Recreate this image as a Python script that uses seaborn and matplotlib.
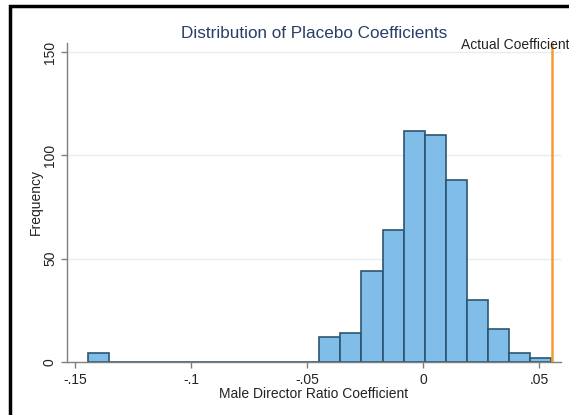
import numpy as np
import pandas as pd
import matplotlib
matplotlib.use("Agg")
import matplotlib.pyplot as plt
import matplotlib.patches as mpatches
import seaborn as sns

# ---- data ----
bin_start = -0.1447
bin_width = 0.00908
counts = [4, 0, 0, 0, 0, 0, 0, 0, 0, 0, 0,
          12, 14, 44, 64, 112, 110, 88, 30, 16, 4, 2]
actual_coef = 0.0553
xticks = [-0.15, -0.10, -0.05, 0.0, 0.05]
xtick_labels = ["-.15", "-.1", "-.05", "0", ".05"]
yticks = [0, 50, 100, 150]
ytick_labels = ["0", "50", "100", "150"]
title = "Distribution of Placebo Coefficients"
xlabel = "Male Director Ratio Coefficient"
ylabel = "Frequency"
line_label = "Actual Coefficient"

edges = [float(e) for e in bin_start + bin_width * np.arange(len(counts) + 1)]
centers = [(a + b) / 2 for a, b in zip(edges[:-1], edges[1:])]
df = pd.DataFrame({"coef": centers, "n": counts})

sns.set_theme(style="white")
plt.rcParams["font.family"] = ["Liberation Sans", "DejaVu Sans"]

fig = plt.figure(figsize=(5.69, 4.15), dpi=100)
fig.patch.set_facecolor("white")
ax = fig.add_axes([0.1172, 0.1284, 0.8682, 0.7673])

ax.set_axisbelow(True)
for v in yticks[1:]:
    ax.axhline(v, color="#e4edf0", lw=1.0, zorder=0)

sns.histplot(data=df, x="coef", weights="n", bins=edges, ax=ax,
             color="#80bde8", edgecolor="#2c5573", linewidth=1.2,
             alpha=1.0, zorder=2)

ax.axvline(actual_coef, color="#f39c34", lw=1.8, zorder=3)
ax.text(0.01625, 151.4, line_label, fontsize=10, color="#222222",
        ha="left", va="baseline", clip_on=False)

ax.set_xlim(-0.1537, 0.0592)
ax.set_ylim(0, 154.3)

ax.set_xticks(xticks)
ax.set_xticklabels(xtick_labels, fontsize=10, color="#222222")
ax.set_yticks(yticks)
ax.set_yticklabels(ytick_labels, fontsize=10, color="#222222",
                   rotation=90, va="center")
ax.tick_params(axis="both", which="major", direction="out", length=4,
               width=1, color="#7f7f7f", bottom=True, left=True)
ax.tick_params(axis="x", pad=4)
ax.tick_params(axis="y", pad=3)

for s in ["top", "right"]:
    ax.spines[s].set_visible(False)
for s in ["left", "bottom"]:
    ax.spines[s].set_color("#7f7f7f")
    ax.spines[s].set_linewidth(1.0)

ax.set_xlabel(xlabel, fontsize=10, color="#222222", labelpad=0)
ax.set_ylabel(ylabel, fontsize=10, color="#222222", labelpad=0)
ax.set_title(title, fontsize=12.3, color="#2a3f66", pad=3.5)

# outer frame (visible on left and top only, as in the reference crop)
top = 1 - 6.2 / 415
frame = mpatches.Rectangle((9.5 / 569, -0.2), 1.5, top + 0.2,
                           transform=fig.transFigure, fill=False,
                           edgecolor="black", lw=2.5, clip_on=False)
fig.add_artist(frame)

fig.savefig("out.png", dpi=100, facecolor="white")
